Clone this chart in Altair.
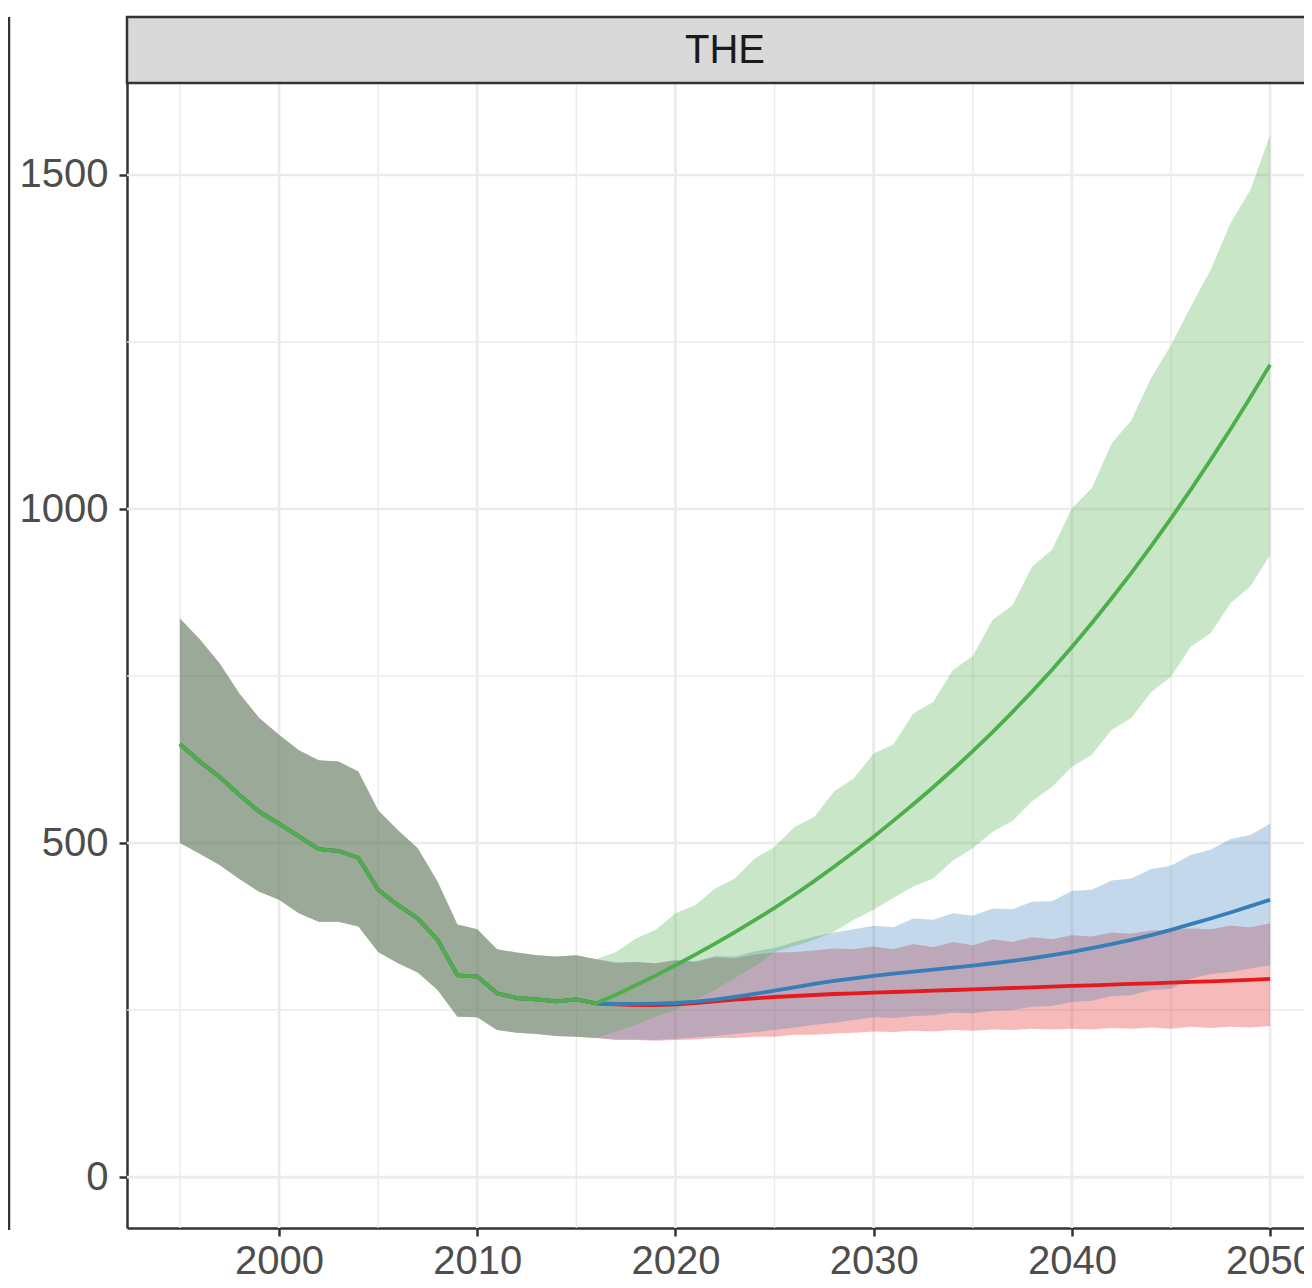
import altair as alt
import pandas as pd

# ---------------- data ----------------
hist_years = list(range(1995, 2017))
hist_mean = [648, 622, 599, 572, 547, 529, 510, 491, 488, 478, 430, 407, 387, 355,
             302, 300, 275, 268, 266, 263, 266, 260]
hist_lo = [500, 484, 467, 446, 427, 415, 395, 382, 382, 375, 337, 320, 306, 280,
           240, 239, 220, 216, 214, 211, 210, 208]
hist_hi = [836, 805, 769, 724, 687, 662, 639, 624, 622, 607, 549, 519, 492, 442,
           378, 371, 341, 336, 332, 330, 332, 326]

proj_years = list(range(2017, 2051))

red_mean = [258.5, 257.5, 257.5, 258.5, 260.5, 263, 265.5, 267.5, 269.5, 271, 272.5,
            274, 275, 276, 277, 278, 279, 280, 281, 282, 283, 284, 285, 286, 287,
            288, 289, 290, 291, 292, 293, 294, 295, 296.5]
red_lo = [205, 205, 204, 205, 206, 208, 208, 210, 210, 213, 213, 215, 216, 218,
          217, 219, 218, 220, 219, 221, 220, 222, 221, 222, 221, 223, 222, 224,
          222, 225, 223, 225, 224, 226]
red_hi = [320, 322, 320, 324, 322, 329, 327, 333, 336, 337, 339, 342, 341, 345,
          341, 349, 344, 352, 347, 356, 352, 359, 356, 362, 360, 366, 364, 369,
          370, 372, 371, 376, 374, 380]

blue_mean = [259, 259, 259.5, 260.5, 262.5, 265.5, 269.5, 274, 279, 284, 289, 293.5,
             297.5, 301, 304.5, 307.5, 310.5, 313.5, 316.5, 320, 323.5, 327.5, 332,
             337, 342.5, 348.5, 355, 362, 370, 378.5, 387, 396, 405.5, 415]
blue_lo = [206, 206, 205, 207, 209, 211, 214, 217, 220, 224, 228, 231, 235, 239,
           238, 241, 242, 246, 245, 249, 250, 255, 256, 262, 264, 271, 272, 280,
           282, 297, 304, 307, 312, 317]
blue_hi = [322, 322, 320, 325, 323, 331, 330, 338, 343, 352, 360, 366, 371, 376,
           374, 387, 385, 395, 391, 402, 401, 412, 413, 428, 430, 444, 447, 461,
           466, 482, 490, 506, 512, 529]

green_mean = [273, 287, 301.5, 317, 333, 349.5, 366.5, 384.5, 403, 422.5, 443, 464.5,
              486.5, 509.5, 533.5, 558, 583.5, 610, 637.5, 666, 696, 727, 759.5, 793.5,
              829, 866, 904.5, 944.5, 986, 1029, 1073.5, 1119.5, 1167, 1216]
green_lo = [218, 228, 240, 250, 265, 280, 298, 315, 337, 346, 355, 367, 385, 400,
            418, 435, 447, 474, 492, 517, 533, 563, 584, 614, 632, 669, 687, 726,
            749, 794, 814, 859, 884, 931]
green_hi = [337, 357, 370, 395, 407, 432, 447, 477, 494, 524, 539, 577, 597, 634,
            648, 694, 711, 759, 780, 834, 856, 914, 939, 1001, 1031, 1098, 1133, 1196,
            1245, 1303, 1358, 1428, 1477, 1560]

series_names = ["red", "blue", "green"]
series_colors = ["#E41A1C", "#377EB8", "#4DAF4A"]

strip_label = ["THE"]
x_major = [2000, 2010, 2020, 2030, 2040, 2050]
x_minor = [1995, 2005, 2015, 2025, 2035, 2045]
y_major = [0, 500, 1000, 1500]
y_minor = [250, 750, 1250]

# ---------------- build tables ----------------
def frame(mean, lo, hi):
    return pd.DataFrame({
        "year": hist_years + proj_years,
        "mean": hist_mean + mean,
        "lo": hist_lo + lo,
        "hi": hist_hi + hi,
    })

frames = [frame(red_mean, red_lo, red_hi),
          frame(blue_mean, blue_lo, blue_hi),
          frame(green_mean, green_lo, green_hi)]

W, H = 1177, 1145
FONT = "Liberation Sans"

xscale = alt.Scale(domain=[1992.33, 2051.71], nice=False, zero=False)
yscale = alt.Scale(domain=[-76.3, 1637.7], nice=False, zero=False)

xaxis = alt.Axis(values=x_major, grid=False, title=None, format="d",
                 labelFontSize=40, labelColor="#4D4D4D", labelFont=FONT,
                 tickColor="#333333", tickWidth=2.5, tickSize=8,
                 domainColor="#333333", domainWidth=2.5, labelPadding=5,
                 labelFlush=False, labelOverlap=False)
yaxis = alt.Axis(values=y_major, grid=False, title=None, format="d",
                 labelFontSize=40, labelColor="#4D4D4D", labelFont=FONT,
                 tickColor="#333333", tickWidth=2.5, tickSize=8,
                 domainColor="#333333", domainWidth=2.5, labelPadding=11,
                 labelFlush=False, labelOverlap=False)

GRID = "#EBEBEB"
layers = []
layers.append(alt.Chart(pd.DataFrame({"v": x_minor})).mark_rule(color=GRID, strokeWidth=1.4)
              .encode(x=alt.X("v:Q", scale=xscale, axis=xaxis)))
layers.append(alt.Chart(pd.DataFrame({"v": y_minor})).mark_rule(color=GRID, strokeWidth=1.4)
              .encode(y=alt.Y("v:Q", scale=yscale, axis=yaxis)))
layers.append(alt.Chart(pd.DataFrame({"v": x_major})).mark_rule(color=GRID, strokeWidth=2.7)
              .encode(x=alt.X("v:Q", scale=xscale, axis=xaxis)))
layers.append(alt.Chart(pd.DataFrame({"v": y_major})).mark_rule(color=GRID, strokeWidth=2.7)
              .encode(y=alt.Y("v:Q", scale=yscale, axis=yaxis)))

for df, col in zip(frames, series_colors):
    layers.append(alt.Chart(df).mark_area(color=col, opacity=0.3).encode(
        x=alt.X("year:Q", scale=xscale, axis=xaxis),
        y=alt.Y("lo:Q", scale=yscale, axis=yaxis),
        y2="hi:Q"))

for df, col in zip(frames, series_colors):
    layers.append(alt.Chart(df).mark_line(color=col, strokeWidth=3.8).encode(
        x=alt.X("year:Q", scale=xscale, axis=xaxis),
        y=alt.Y("mean:Q", scale=yscale, axis=yaxis)))

strip_df = pd.DataFrame({"label": strip_label})
layers.append(alt.Chart(strip_df).mark_rect(fill="#D9D9D9", stroke="#333333", strokeWidth=2.5)
              .encode(x=alt.value(0), x2=alt.value(W + 60), y=alt.value(-66), y2=alt.value(0)))
layers.append(alt.Chart(strip_df).mark_text(font=FONT, fontSize=40, color="#1A1A1A",
                                             align="center", baseline="middle")
              .encode(text="label:N", x=alt.value(598), y=alt.value(-32)))
layers.append(alt.Chart(strip_df).mark_rule(color="#333333", strokeWidth=2.5)
              .encode(x=alt.value(-118), y=alt.value(-66), y2=alt.value(H + 2)))

chart = alt.layer(*layers).properties(
    width=W, height=H,
    autosize=alt.AutoSizeParams(type="none"),
    padding={"left": 119, "top": 75, "right": 0, "bottom": 57},
    background="white",
).configure_view(stroke=None)

chart.save("out.html", embed_options={"renderer": "svg", "actions": False})
